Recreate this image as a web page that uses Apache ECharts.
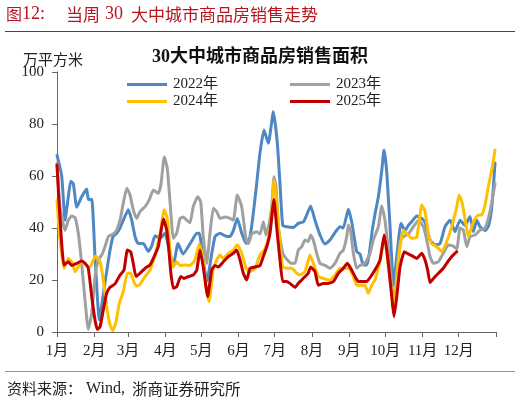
<!DOCTYPE html>
<html><head><meta charset="utf-8">
<script src="https://cdn.jsdelivr.net/npm/echarts@6/dist/echarts.min.js"></script>
<style>html,body{margin:0;padding:0;background:#fff}#c{width:520px;height:403px}</style>
</head><body><div id="c"></div>
<script>
// Month tick positions (day of year) and labels
const monthStarts = [0,31,59,90,120,151,181,212,243,273,304,334,365];
const monthLabels = ['1月','2月','3月','4月','5月','6月','7月','8月','9月','10月','11月','12月'];
const yTicks = [0,20,40,60,80,100];

const days2022 = [0,3.9,6.7,9.4,11.4,13.6,16.4,20.5,24.7,26.0,28.9,31.6,35.2,39.9,44.1,46.6,49.6,52.4,55.1,59.3,62.1,64.9,67.6,71.8,75.9,78.7,81.5,85.7,89.8,96.5,100.6,104.8,112.0,116.2,118.3,121.6,124.7,128.6,131.4,135.5,139.7,143.8,146.6,149.9,153.6,157.2,160.5,163.2,166.0,168.8,172.1,175.7,179.9,183.2,185.4,187.7,191.0,196.5,200.6,204.8,207.6,210.9,214.5,218.7,222.8,227.0,231.1,235.3,238.0,242.2,245.0,249.2,251.9,254.7,257.5,259.3,262.1,264.5,267.2,270.0,271.9,274.1,276.9,279.8,282.7,286.0,289.4,292.1,294.9,299.1,303.3,306.0,310.2,314.3,318.5,322.6,326.8,330.9,335.1,339.3,343.4,346.2,349.0,351.7,355.9,358.6,361.5,364.2];
const area2022 = [68,60,43,52,58,57,48,52,55,51,51,29,4.6,19,31.5,36.7,38,40,43,47,43,36.7,34,34,31,33,37,36,38,25,34,30,35,38,38,27.7,19.5,30,36.7,38,37,36.7,39,43.7,38,34,36.7,45.6,57,69,77.7,72.6,84.7,72.6,57,41,40.5,40.2,41.8,42.3,45,48.5,43,37.3,33.8,35.4,38.2,40.5,40,47.2,42.4,30.9,30,25.8,25.8,29,39,45.6,52,62,70,62,40.5,18,30,41.8,39,41,42.4,44.6,43.7,42,35.4,33.5,34,40.5,43,38.6,43,41,44.4,38.6,43,40.5,39,40.5,48,65];

const days2023 = [0,2.5,6.7,9.4,12.2,15.0,17.7,20.5,23.3,26.0,28.9,31.6,34.3,37.2,39.9,42.7,46.8,49.6,52.4,55.1,58.0,60.7,63.4,66.3,69.0,73.2,76.7,80.1,84.2,86.5,89.2,91.7,94.0,96.7,99.5,102.3,105.0,107.8,110.6,113.3,117.0,119.5,121.6,124.5,127.2,130.0,132.8,135.5,139.7,143.8,146.6,149.9,153.6,157.2,159.1,161.9,166.0,168.8,171.6,173.8,176.5,178.5,180.4,182.1,184.0,187.7,191.0,195.1,197.9,200.6,203.5,206.2,208.9,210.9,213.1,215.9,218.7,222.8,227.0,231.1,235.3,238.1,240.9,242.2,244.2,246.4,249.2,251.9,256.1,260.3,263.0,267.2,270.0,272.7,275.5,280.2,282.5,285.2,288.0,292.1,296.3,300.5,304.6,307.4,310.2,312.9,317.0,321.2,325.4,329.5,332.4,335.1,337.8,340.7,343.4,347.6,351.7,355.9,360.0,364.2];
const area2023 = [65,48,39,43,44.6,44,38,26.4,12.3,1,7.2,21.3,27.7,29.6,32.8,36.7,37.7,39.2,43,49.5,55.3,52.7,47,43.7,46.3,48.2,50.8,54.6,53.3,57,67.4,63,50,36,38,43.7,44.2,43,42,48.2,52,50,36.7,26.4,38,47.6,46.3,43.7,44.2,43.7,43,52.7,48.2,35.4,34,37.7,38.6,37.7,42.4,37.3,41.8,48.2,59.7,56,40.5,30.3,28,26.4,26.4,31.5,32.8,35.4,34.8,37.3,35.4,30.3,26.4,25.6,24.5,26.4,30.3,31.5,36.7,41.2,38.6,30.3,24.5,25.6,26.4,30.3,35.4,40.5,48.5,43,31.5,11,22.6,35,36.7,37.7,40.5,43,40.5,35.4,29,26.4,27,30.3,33.5,33,32,40,39.2,32.8,36.7,37.3,39.2,40,46.3,57];

const days2024 = [0,1.9,3.9,5.8,9.4,12.2,15.0,17.7,20.5,24.7,27.4,30.2,32.2,35.8,38.5,41.3,44.1,46.3,49.1,51.8,55.1,58.5,61.3,63.4,65.7,69.0,73.2,77.3,81.5,85.7,89.2,91.7,94.0,96.7,99.5,102.3,106.4,110.6,114.7,118.3,121.1,123.9,126.4,130.0,132.8,135.5,138.3,142.4,146.6,149.9,153.6,157.2,160.5,164.6,168.8,172.9,176.5,178.5,180.4,182.6,184.8,187.7,191.0,195.1,199.3,202.1,206.2,210.4,213.1,217.3,221.4,227.0,231.1,235.3,240.9,243.6,246.4,249.2,253.4,256.1,258.8,261.7,264.4,268.6,272.2,275.5,280.2,283.8,287.9,291.0,294.9,299.1,303.3,306.0,308.7,311.5,315.7,319.9,324.0,328.2,332.4,334.3,337.0,339.8,342.0,346.2,350.3,353.1,355.9,358.6,361.5,364.2];
const area2024 = [50.8,38,30.3,24.5,28.3,27,23.2,25,27,25.6,25,27.7,29.2,27,20,9.7,2.7,0.5,4,11,15.5,22.6,22.6,20,17.7,18.3,21.3,23.8,29.6,38,47,43.7,31.5,25,27,25.6,25.8,25.6,27.7,33.8,29,17.4,11.7,24.5,27.7,29.6,28.3,30.3,31.5,33.5,30.3,24.5,23.2,24.5,29.6,32,38,45,58.5,50.8,36.7,25,24.5,24.5,22.6,22,23.2,29.6,26.4,21.3,20.6,20,21.9,24.5,24.5,24,21.3,18,18,18,14.9,18,20,27.7,36.7,25,9.7,27.7,39.2,37.7,36,36.5,48.8,46.3,38,34,32.8,30.9,34.7,40.5,48.2,52.7,49.5,41.8,36.7,42.4,45,45,48.8,55.9,62.3,70];

const days2025 = [0,1.9,3.9,5.8,9.4,12.2,16.4,20.5,23.3,26.0,28.9,31.6,33.5,35.8,38.5,41.3,44.1,48.2,52.4,55.7,58.5,61.3,63.4,65.7,69.0,73.2,77.3,80.1,84.2,88.6,91.2,92.7,94.7,96.7,99.5,102.9,105.6,109.2,113.3,116.2,118.9,121.6,125.3,128.6,131.4,134.1,138.3,142.4,146.6,149.4,152.2,154.9,157.7,160.5,164.6,168.8,171.5,174.4,177.1,180.4,182.6,185.4,187.7,191.0,193.7,197.9,200.6,203.5,206.2,208.9,210.9,214.5,217.3,221.4,225.6,229.8,233.9,238.1,241.4,244.2,247.8,250.5,254.7,257.5,261.7,265.8,268.6,272.2,275.5,278.3,280.2,282.5,285.2,288.8,292.1,296.3,299.1,303.3,306.0,308.2,310.2,314.3,318.5,321.2,324.0,328.2,332.4];
const area2025 = [64.2,48.2,34,25.8,27,25.6,26.4,27.3,26.4,24.5,13.6,4.6,1,2,8.5,14.9,17.2,18.5,21.9,23.8,31.5,30.8,26.4,21.3,22.6,24.5,25.8,28.3,32.8,43.5,39.2,33,22.6,16.8,17.4,21.3,20.6,21.3,21.9,23.8,31.5,25,13.6,23.8,25.6,25,27,29,30.3,31.5,27.7,22.6,20,24.5,25,25.6,29,32.8,38,51,40.5,27.7,19.4,19.4,18.7,17.2,18.7,20,21.3,22.6,25,23.2,18,18.7,18.7,19.4,22.6,24.5,26.4,24.5,21.3,19.4,19.4,19.4,21.9,25,27.7,37.3,26.4,13.6,5.9,13.6,25,30.9,30,29,28.3,30.3,27.7,23.8,19,21.3,23.2,24.5,26.4,29,30.9];

const seriesNames = ['2022年','2023年','2024年','2025年'];
const seriesColors = ['#4f87c2','#a0a0a0','#ffc000','#c00000'];
const allDays = [days2022, days2023, days2024, days2025];
const allVals = [area2022, area2023, area2024, area2025];

const serif = "'Liberation Serif','Noto Sans CJK SC',serif";
const cjk = "'Noto Sans CJK SC',sans-serif";
const red = '#b8141e';

const chart = echarts.init(document.getElementById('c'), null, {renderer:'canvas'});

const legendPos = [[127,77],[290,77],[127,94],[290,94]];
const legends = seriesNames.map((n,i)=>({
  data:[n], left:legendPos[i][0], top:legendPos[i][1], icon:'rect',
  itemWidth:40, itemHeight:3, itemGap:5, padding:0,
  textStyle:{fontFamily:serif, fontSize:15, color:'#222', padding:[0,0,0,1]}
}));

chart.setOption({
  animation:false,
  backgroundColor:'#fff',
  title:{text:'30大中城市商品房销售面积', left:'center', top:48, padding:0,
    textStyle:{fontFamily:serif, fontSize:18, fontWeight:'bold', color:'#111'}},
  legend:legends,
  grid:{left:57, right:24, top:72, bottom:71, containLabel:false},
  xAxis:{type:'value', min:0, max:365,
    axisLine:{show:true, lineStyle:{color:'#666', width:1}},
    axisTick:{show:true, length:5, customValues:monthStarts, lineStyle:{color:'#666'}},
    axisLabel:{show:true, customValues:monthStarts.slice(0,12), margin:12,
      fontFamily:serif, fontSize:15, color:'#222',
      formatter:(v)=>monthLabels[monthStarts.indexOf(v)]},
    splitLine:{show:false}},
  yAxis:{type:'value', min:0, max:100, interval:20,
    axisLine:{show:true, lineStyle:{color:'#666', width:1}},
    axisTick:{show:true, length:5, inside:false, lineStyle:{color:'#666'}},
    axisLabel:{margin:13, fontFamily:serif, fontSize:15, color:'#222'},
    splitLine:{show:false}},
  series:seriesNames.map((n,i)=>({
    name:n, type:'line', showSymbol:false, symbol:'none', smooth:0.15,
    lineStyle:{width:3, color:seriesColors[i], join:'round', cap:'round'},
    itemStyle:{color:seriesColors[i]},
    data:allDays[i].map((d,k)=>[d, allVals[i][k]])
  })),
  graphic:[
    {type:'text', left:6, top:6, style:{text:'图', font:"16px "+cjk, fill:red}},
    {type:'text', left:22, top:5, style:{text:'12:', font:"18px 'Liberation Serif'", fill:red}},
    {type:'text', left:66, top:6, style:{text:'当周', font:"17px "+cjk, fill:red}},
    {type:'text', left:105, top:5, style:{text:'30', font:"18px 'Liberation Serif'", fill:red}},
    {type:'text', left:131, top:6, style:{text:'大中城市商品房销售走势', font:"17px "+cjk, fill:red}},
    {type:'rect', shape:{x:5, y:31, width:510, height:1}, style:{fill:red}},
    {type:'text', left:23, top:52, style:{text:'万平方米', font:"15px "+cjk, fill:'#222'}},
    {type:'rect', shape:{x:5, y:371, width:510, height:1}, style:{fill:'#e07070'}},
    {type:'text', left:7, top:381, style:{text:'资料来源：', font:"15px "+cjk, fill:'#222'}},
    {type:'text', left:86, top:381, style:{text:'Wind,', font:"16px 'Liberation Serif'", fill:'#222'}},
    {type:'text', left:132, top:381, style:{text:'浙商证券研究所', font:"15.5px "+cjk, fill:'#222'}}
  ]
});
</script></body></html>
